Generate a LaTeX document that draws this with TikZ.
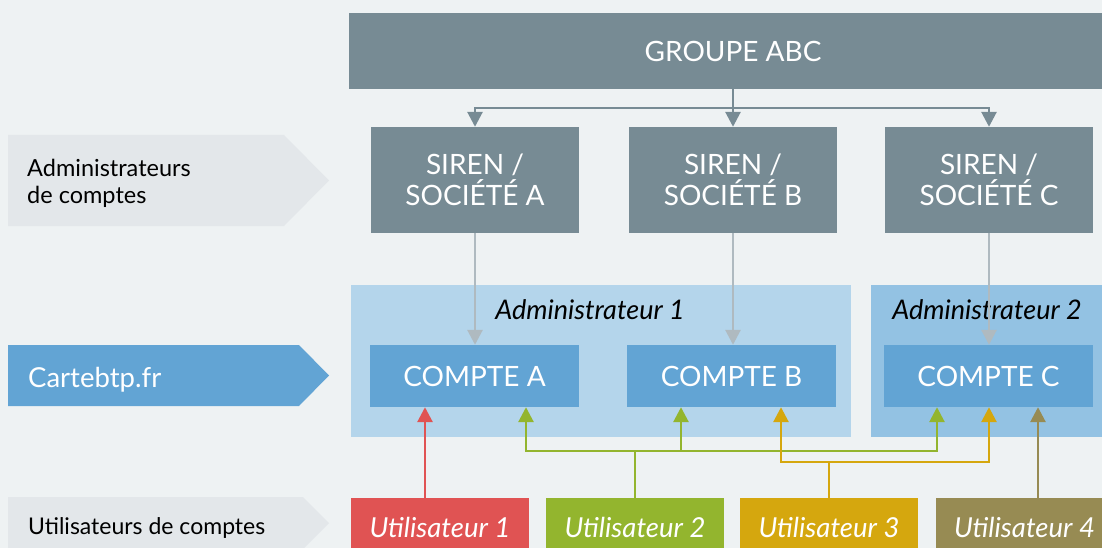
\documentclass[tikz,border=0pt]{standalone}
\usepackage{fontspec}
\setmainfont{Lato}
\usetikzlibrary{arrows.meta}

\definecolor{pagebg}{HTML}{EEF2F3}
\definecolor{slate}{HTML}{778B94}
\definecolor{labelgrey}{HTML}{E3E7EA}
\definecolor{webblue}{HTML}{62A4D4}
\definecolor{paneone}{HTML}{B4D5EB}
\definecolor{panetwo}{HTML}{93C2E3}
\definecolor{linkgrey}{HTML}{AFBAC0}
\definecolor{userred}{HTML}{E05353}
\definecolor{usergreen}{HTML}{93B52E}
\definecolor{userorange}{HTML}{D5A70E}
\definecolor{userolive}{HTML}{978B53}

\tikzset{
  box/.style={rectangle, inner sep=0pt, align=center, text=white,
    font=\fontsize{28}{31}\selectfont},
  sirenbox/.style={box, fill=slate, minimum width=208pt, minimum height=106pt},
  comptebox/.style={box, fill=webblue, minimum width=209pt, minimum height=62pt},
  userbox/.style={box, minimum width=178pt, minimum height=58pt,
    font=\fontsize{27.5}{31}\selectfont\itshape},
  panel/.style={rectangle, inner sep=0pt, minimum height=152pt},
  paneltitle/.style={inner sep=0pt, text=black, font=\fontsize{27}{31}\selectfont\itshape},
  sidetext/.style={inner sep=0pt, align=left, font=\fontsize{23.5}{27}\selectfont},
  link/.style={line width=2.8pt, -{Triangle[width=15pt,length=15pt]}},
  plain/.style={line width=2.8pt},
}

\begin{document}
\begin{tikzpicture}[x=1pt,y=-1pt]
\useasboundingbox (0,0) rectangle (1102,548);
\clip (0,0) rectangle (1102,548);
\fill[pagebg] (0,0) rectangle (1102,548);

% side labels (arrow-shaped tabs)
\fill[labelgrey] (8,135) -- (284,135) -- (329,180.5) -- (284,226) -- (8,226) -- cycle;
\node[sidetext, anchor=west] (lbladmin) at (27,183) {Administrateurs\\de comptes};
\fill[webblue] (8,345) -- (299,345) -- (329,375.5) -- (299,406) -- (8,406) -- cycle;
\node[sidetext, anchor=base west, text=white, font=\fontsize{27.5}{31}\selectfont] (lblweb) at (28,387) {Cartebtp.fr};
\fill[labelgrey] (8,497) -- (303,497) -- (329,523) -- (303,549) -- (8,549) -- cycle;
\node[sidetext, anchor=base west, font=\fontsize{23}{27}\selectfont] (lblusers) at (28,534) {Utilisateurs de comptes};

% group and companies
\node[box, fill=slate, minimum width=768pt, minimum height=76pt] (groupe) at (733,51) {GROUPE ABC};
\node[sirenbox] (sirA) at (475,180) {SIREN /\\SOCIÉTÉ A};
\node[sirenbox] (sirB) at (733,180) {SIREN /\\SOCIÉTÉ B};
\node[sirenbox] (sirC) at (989,180) {SIREN /\\SOCIÉTÉ C};

\coordinate (split) at (733,108);
\draw[plain, slate] (groupe.south) -- (split);
\draw[link, slate] (split) -| (sirA.north);
\draw[link, slate] (split) -- (sirB.north);
\draw[link, slate] (split) -| (sirC.north);

% administrator panels
\node[panel, fill=paneone, minimum width=500pt] (adm1) at (601,361) {};
\node[panel, fill=panetwo, minimum width=240pt] (adm2) at (991,361) {};
\node[paneltitle] (adm1title) at (590,310) {Administrateur 1};
\node[paneltitle] (adm2title) at (987,310) {Administrateur 2};

% accounts
\node[comptebox] (cptA) at (474.5,376) {COMPTE A};
\node[comptebox] (cptB) at (731.5,376) {COMPTE B};
\node[comptebox] (cptC) at (988.5,376) {COMPTE C};

\draw[link, linkgrey] (sirA.south) -- (sirA.south |- cptA.north);
\draw[link, linkgrey] (sirB.south) -- (sirB.south |- cptB.north);
\draw[link, linkgrey] (sirC.south) -- (sirC.south |- cptC.north);

% users
\node[userbox, fill=userred] (u1) at (440,527) {Utilisateur 1};
\node[userbox, fill=usergreen] (u2) at (635,527) {Utilisateur 2};
\node[userbox, fill=userorange] (u3) at (829,527) {Utilisateur 3};
\node[userbox, fill=userolive] (u4) at (1024.5,527) {Utilisateur 4};

% user 1 -> A
\coordinate (rA) at ([xshift=-49.5pt]cptA.south);
\draw[link, userred] (u1.north -| rA) -- (rA);

% user 2 -> A, B, C
\coordinate (gbar) at (635,451);
\coordinate (gA) at ([xshift=51.5pt]cptA.south);
\coordinate (gB) at ([xshift=-50.5pt]cptB.south);
\coordinate (gC) at ([xshift=-51.5pt]cptC.south);
\draw[plain, usergreen] (u2.north) -- (gbar);
\draw[link, usergreen] (gbar) -| (gA);
\draw[link, usergreen] (gbar) -| (gB);
\draw[link, usergreen] (gbar) -| (gC);

% user 3 -> B, C
\coordinate (obar) at (829,462);
\coordinate (oB) at ([xshift=49.5pt]cptB.south);
\coordinate (oC) at ([xshift=0.5pt]cptC.south);
\draw[plain, userorange] (u3.north) -- (obar);
\draw[link, userorange] (obar) -| (oB);
\draw[link, userorange] (obar) -| (oC);

% user 4 -> C
\coordinate (vC) at ([xshift=49.5pt]cptC.south);
\draw[link, userolive] (u4.north -| vC) -- (vC);
\end{tikzpicture}
\end{document}
